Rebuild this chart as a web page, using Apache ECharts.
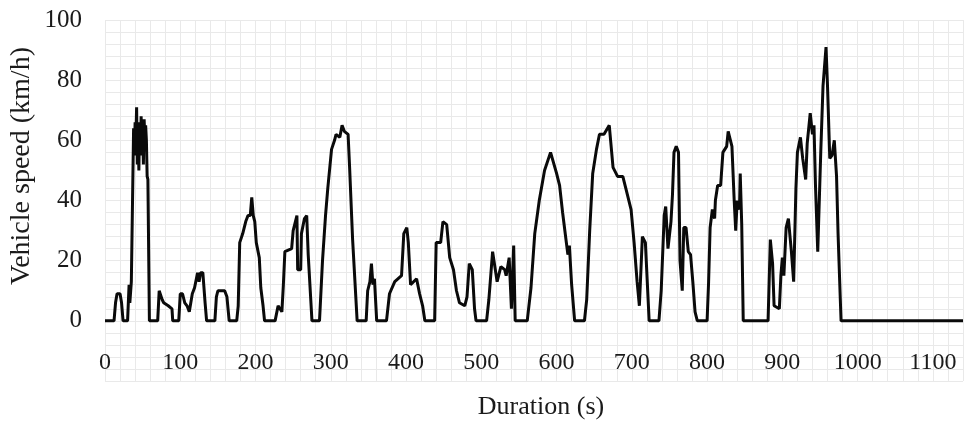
<!DOCTYPE html>
<html>
<head>
<meta charset="utf-8">
<script src="https://cdn.jsdelivr.net/npm/echarts@6/dist/echarts.min.js"></script>
<style>
html,body{margin:0;padding:0;background:#fff;}
#chart{width:972px;height:423px;}
</style>
</head>
<body>
<div id="chart"></div>
<script>
var durationS = [0,12,14,16,20,22,24,30,32,33,35,37,38,39,40,41,42,43,44,45,46,47,48,49,50,51,52,53,54,55,56,57,59,
70,72,74,76,78,84,89,90,98,100,103,106,109,112,116,119,123,125,127,130,133,135,146,148,150,159,162,165,
175,177,179,183,187,190,193,195,197,199,201,205,207,210,212,226,230,235,237,239,248,250,255,256,260,261,265,268,270,275,
285,289,293,296,301,305,307,312,315,318,323,325,329,335,347,349,352,354,356,358,361,
374,378,385,394,397,401,403,406,414,418,422,425,438,440,446,449,454,458,463,467,471,478,481,484,488,491,493,
507,510,515,521,526,531,533,537,540,543,545,561,566,571,577,584,592,600,604,608,613,615,617,620,624,
637,640,644,648,653,657,663,670,675,681,688,692,699,703,707,710,714,718,723,
736,739,743,745,748,752,754,756,759,762,764,767,769,772,775,778,781,784,787,
800,802,804,807,810,811,814,818,821,826,828,833,836,838,840,843,844,846,848,
881,884,887,889,896,898,900,902,905,908,912,915,918,920,924,927,931,933,937,940,942,944,947,951,954,958,960,963,966,969,972,974,977,978,1140];
var speedKmh = [0,0,6,9,9,6,0,0,12,6,13,13,64,55,66,60,71,52,62,50,66,55,68,58,65,52,67,60,65,60,48,47,0,
0,10,10,7,6,5,4,0,0,9,9,6,5,3,9,11,16,13,16,16,6,0,0,8,10,10,8,0,
0,5,26,29,33,35,35,41,35,33,26,21,11,5,0,0,5,3,12,23,24,30,35,17,17,29,34,35,22,0,
0,20,35,44,57,60,62,61,65,63,62,51,27,0,0,10,13,19,12,14,0,
0,9,13,15,29,31,26,12,14,9,5,0,0,26,26,33,32,21,17,10,6,5,8,19,17,4,0,
0,7,23,13,18,17,15,21,4,25,0,0,11,29,40,50,56,49,45,36,26,22,25,12,0,
0,7,30,49,57,62,62,65,51,48,48,44,37,26,13,5,28,26,0,
0,10,35,38,24,33,42,56,58,56,20,10,31,31,23,22,13,3,0,
0,13,31,37,34,40,45,45,56,58,63,58,40,30,40,37,49,32,0,
0,27,19,5,4,15,21,15,31,34,23,13,44,56,61,54,47,59,69,62,65,45,23,56,78,91,78,54,55,60,48,29,7,0,0];
var xTickLabels = [0,100,200,300,400,500,600,700,800,900,1000,1100];
var yTickLabels = [0,20,40,60,80,100];

var points = durationS.map(function(t,i){ return [t, speedKmh[i]]; });
var serif = 'Liberation Serif';
var gridColor = '#e9e9e9';

var chart = echarts.init(document.getElementById('chart'), null, {renderer:'canvas'});
chart.setOption({
  animation: false,
  backgroundColor: '#ffffff',
  grid: {left:105, right:9, top:20, bottom:42},
  xAxis: {
    type: 'value', min: 0, max: 1140, interval: 20,
    axisLine: {show:false}, axisTick: {show:false},
    splitLine: {show:true, lineStyle:{color:gridColor, width:1}},
    axisLabel: {
      inside: true, margin: 6, fontSize: 24, color: '#1a1a1a', fontFamily: serif,
      showMaxLabel: false,
      formatter: function(v){ v = Math.round(v); return xTickLabels.indexOf(v) >= 0 ? String(v) : ''; }
    }
  },
  yAxis: {
    type: 'value', min: -20, max: 100, interval: 4,
    axisLine: {show:false}, axisTick: {show:false},
    splitLine: {show:true, lineStyle:{color:gridColor, width:1}},
    axisLabel: {
      margin: 23, fontSize: 25, color: '#1a1a1a', fontFamily: serif,
      formatter: function(v){ v = Math.round(v); return yTickLabels.indexOf(v) >= 0 ? String(v) : ''; }
    }
  },
  graphic: [
    {type:'text', x:22, y:166, rotation:Math.PI/2,
     style:{text:'Vehicle speed (km/h)', font:'28px "Liberation Serif"', fill:'#1a1a1a', textAlign:'center', textVerticalAlign:'middle'}},
    {type:'text', x:541, y:407,
     style:{text:'Duration (s)', font:'26px "Liberation Serif"', fill:'#1a1a1a', textAlign:'center', textVerticalAlign:'middle'}}
  ],
  series: [{
    type: 'line', data: points, showSymbol: false, symbol: 'none',
    lineStyle: {color:'#0a0a0a', width:3}, z: 5
  }]
});
</script>
</body>
</html>
